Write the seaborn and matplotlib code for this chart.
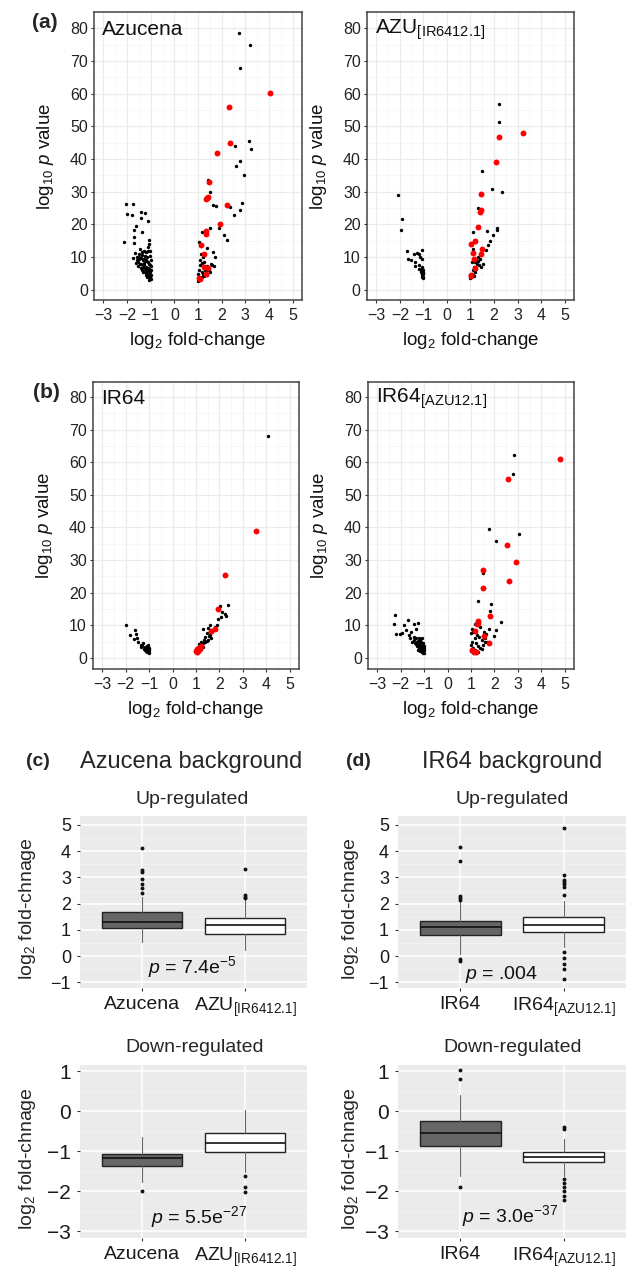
import matplotlib
matplotlib.use('Agg')
import matplotlib.pyplot as plt
import numpy as np
import pandas as pd
import seaborn as sns

sns.set_theme(style='white')
plt.rcParams['font.family'] = ['Liberation Sans', 'DejaVu Sans']
plt.rcParams['mathtext.fontset'] = 'custom'
plt.rcParams['mathtext.rm'] = 'Liberation Sans'
plt.rcParams['mathtext.it'] = 'Liberation Sans:italic'
plt.rcParams['mathtext.bf'] = 'Liberation Sans:bold'

# ---- volcano data: (log2 fold-change, log10 p) ----
azucena_black = [
    (-2.03, 26.2), (-1.76, 26.2), (-2.02, 23.1), (-1.79, 22.9), (-2.12, 14.5), (-1.43, 23.8),
    (-1.26, 23.4), (-1.41, 21.9), (-1.12, 21.2), (-1.62, 19.6), (-1.69, 18.3), (-1.36, 17.8),
    (-1.72, 16.3), (-1.69, 14.3), (-1.08, 15.3), (-1.08, 14.0), (-1.45, 12.5), (-1.30, 12.0),
    (-1.20, 11.5), (-1.10, 13.0), (-1.05, 12.0), (-1.02, 10.5), (-1.00, 9.0), (-1.15, 10.0),
    (-1.25, 10.5), (-1.35, 10.8), (-1.50, 9.5), (-1.60, 9.0), (-1.75, 9.8), (-1.55, 8.5),
    (-1.40, 8.0), (-1.30, 7.5), (-1.18, 7.0), (-1.08, 6.5), (-1.03, 5.5), (-1.00, 4.5),
    (-1.12, 8.5), (-1.22, 8.8), (-1.32, 9.2), (-1.45, 7.8), (-1.62, 8.2), (-1.50, 10.0),
    (-1.38, 11.5), (-1.28, 9.5), (-1.15, 5.8), (-1.05, 7.5), (-1.00, 3.2), (-1.10, 4.5),
    (-1.20, 6.0), (-1.02, 3.8), (-1.06, 5.0), (-1.14, 5.2), (-1.24, 6.5), (-1.34, 7.0),
    (-1.42, 6.8), (-1.01, 3.5), (-1.04, 4.2), (-1.09, 3.8), (-1.17, 4.8), (-1.12, 12.0),
    (-1.48, 11.0), (-1.58, 10.2), (-1.27, 8.2), (-1.19, 9.0), (-1.11, 6.8), (-1.07, 8.0),
    (-1.03, 6.2), (-1.36, 6.0), (-1.26, 5.4), (-1.16, 4.0), (-1.06, 3.0), (-1.21, 4.6),
    (-1.31, 5.6), (-1.41, 9.6), (-1.52, 7.4), (-1.66, 11.2), (-1.00, 6.0), (-1.00, 7.2),
    (2.74, 78.5), (3.19, 75.0), (2.77, 68.0), (3.15, 45.5), (3.25, 43.0), (2.55, 44.0),
    (2.79, 39.5), (2.61, 38.0), (2.94, 35.2), (2.86, 26.5), (2.37, 25.5), (2.77, 24.3),
    (2.51, 23.0), (2.11, 16.8), (2.22, 15.2), (1.87, 18.8), (1.65, 26.0), (1.76, 25.6),
    (1.51, 30.0), (1.44, 33.5), (1.16, 17.7), (1.51, 19.0), (1.06, 14.7), (1.37, 12.7),
    (1.65, 11.6), (1.72, 10.1), (1.16, 8.2), (1.08, 9.0), (1.12, 11.0), (1.20, 10.0),
    (1.25, 8.5), (1.30, 7.0), (1.35, 6.5), (1.40, 7.2), (1.45, 6.0), (1.50, 5.5),
    (1.55, 7.8), (1.02, 5.0), (1.05, 6.0), (1.10, 7.5), (1.15, 5.5), (1.22, 4.8),
    (1.28, 6.2), (1.33, 5.8), (1.18, 4.0), (1.08, 3.5), (1.03, 3.0), (1.00, 2.8),
    (1.13, 3.8), (1.24, 4.2), (1.38, 4.5), (1.60, 7.5), (1.68, 7.2),
]
azucena_red = [
    (4.05, 60.3), (2.30, 56.0), (2.34, 45.0), (1.80, 42.0), (1.48, 33.0), (1.44, 28.5),
    (1.39, 28.2), (1.35, 27.7), (2.22, 26.0), (1.94, 20.3), (1.33, 18.0), (1.32, 17.0),
    (1.13, 13.8), (1.24, 11.0), (1.27, 7.0), (1.44, 6.7), (1.35, 5.0), (1.06, 3.5), (1.10, 3.3),
]
azu_black = [
    (-2.07, 29.0), (-1.92, 21.8), (-1.95, 18.2), (-1.71, 11.9), (-1.64, 9.5), (-1.42, 11.0),
    (-1.28, 11.3), (-1.21, 11.0), (-1.06, 12.3), (-1.52, 9.0), (-1.35, 8.5), (-1.21, 7.5),
    (-1.14, 10.0), (-1.06, 9.5), (-1.38, 7.3), (-1.18, 6.4), (-1.08, 7.0), (-1.04, 6.0),
    (-1.02, 5.2), (-1.06, 4.6), (-1.00, 4.0), (-1.10, 5.5), (-1.05, 6.6), (-1.03, 4.8),
    (-1.08, 5.0), (-1.12, 6.0), (-1.01, 5.6), (-1.07, 3.8), (-1.02, 3.6),
    (2.20, 57.0), (2.23, 51.5), (1.49, 36.4), (1.90, 31.0), (2.32, 30.0), (1.30, 25.0),
    (2.13, 18.9), (2.13, 18.2), (1.95, 16.8), (1.69, 17.9), (1.11, 17.6), (1.83, 15.1),
    (1.73, 13.6), (1.66, 12.3), (1.09, 12.6), (1.30, 10.0), (1.37, 7.5), (1.25, 9.0),
    (1.40, 9.5), (1.20, 8.5), (1.15, 7.0), (1.10, 6.0), (1.05, 5.0), (1.02, 4.0),
    (1.00, 3.5), (1.12, 4.5), (1.18, 5.5), (1.22, 6.5), (1.28, 7.8), (1.33, 8.8),
    (1.08, 8.5), (1.14, 9.5), (1.45, 7.0), (1.52, 8.0), (1.04, 3.8), (1.16, 4.2),
]
azu_red = [
    (3.24, 48.0), (2.23, 46.8), (2.09, 39.2), (1.44, 29.2), (1.46, 24.5), (1.42, 23.8),
    (1.34, 19.2), (1.02, 14.1), (1.20, 15.0), (1.49, 12.5), (1.44, 11.0), (1.11, 11.3),
    (1.13, 9.3), (1.20, 6.7), (1.01, 4.4), (1.03, 4.2),
]
ir64_black = [
    (-1.99, 10.0), (-1.81, 7.0), (-1.62, 8.5), (-1.56, 7.2), (-1.66, 5.8), (-1.47, 5.0),
    (-1.37, 4.0), (-1.30, 3.8), (-1.25, 4.5), (-1.20, 3.2), (-1.15, 2.8), (-1.10, 3.5),
    (-1.05, 2.5), (-1.00, 2.0), (-1.02, 3.0), (-1.08, 2.2), (-1.12, 2.0), (-1.18, 2.5),
    (-1.00, 1.6), (-1.04, 1.8), (-1.06, 4.0), (-1.03, 3.6), (-1.14, 3.0), (-1.35, 3.2),
    (-1.50, 6.2), (-1.22, 2.6), (-1.01, 2.6), (-1.09, 1.9),
    (4.09, 68.0), (2.37, 16.2), (2.01, 15.8), (2.12, 14.2), (2.22, 13.4), (2.08, 12.6),
    (1.32, 9.0), (1.58, 10.0), (1.52, 9.2), (1.45, 7.5), (1.40, 6.5), (1.60, 7.0),
    (1.70, 8.0), (1.80, 9.5), (1.90, 10.2), (1.35, 5.5), (1.30, 4.5), (1.25, 4.0),
    (1.20, 3.5), (1.15, 3.0), (1.10, 2.5), (1.05, 2.2), (1.00, 1.8), (1.50, 5.5),
    (1.65, 6.0), (1.55, 6.8), (1.12, 4.2), (1.22, 5.0), (1.38, 4.8), (1.45, 5.2),
    (1.08, 3.2), (1.95, 12.0), (2.30, 13.0), (1.28, 3.2),
]
ir64_red = [
    (3.56, 39.0), (2.24, 25.5), (1.94, 15.0), (1.82, 8.8), (1.62, 8.2), (1.22, 3.5),
    (1.12, 3.0), (1.03, 2.6), (1.00, 2.0), (1.08, 2.2), (1.15, 2.8), (1.05, 1.8),
]
ir64azu_black = [
    (-2.24, 13.3), (-2.29, 10.3), (-1.71, 11.5), (-1.27, 10.7), (-1.43, 10.5), (-2.19, 7.4),
    (-1.96, 7.5), (-1.79, 8.5), (-2.05, 7.4), (-1.65, 7.0), (-1.55, 8.0), (-1.45, 6.5),
    (-1.35, 6.0), (-1.30, 5.0), (-1.25, 4.0), (-1.20, 3.5), (-1.15, 3.0), (-1.10, 2.5),
    (-1.05, 2.0), (-1.00, 1.5), (-1.02, 3.0), (-1.06, 4.0), (-1.12, 5.0), (-1.18, 5.5),
    (-1.22, 6.2), (-1.40, 4.5), (-1.32, 3.5), (-1.28, 2.5), (-1.18, 2.0), (-1.08, 1.8),
    (-1.00, 2.5), (-1.03, 4.5), (-1.10, 6.0), (-1.50, 5.0), (-1.60, 6.0), (-1.14, 3.8),
    (-1.24, 3.0), (-1.04, 1.6), (-1.00, 3.5), (-1.36, 9.0), (-1.88, 10.0),
    (-1.16, 4.6), (-1.26, 5.2), (-1.08, 3.3), (-1.34, 4.2), (-1.44, 5.6), (-1.20, 2.6),
    (2.83, 62.3), (2.79, 56.5), (1.79, 39.5), (2.07, 36.0), (3.03, 38.0), (1.50, 26.0),
    (1.29, 17.3), (1.86, 16.5), (1.81, 14.5), (2.29, 11.0), (2.07, 8.7), (2.00, 6.6),
    (1.00, 7.5), (1.05, 9.0), (1.10, 8.0), (1.15, 6.0), (1.25, 7.0), (1.35, 6.5),
    (1.45, 5.5), (1.55, 8.0), (1.60, 6.0), (1.70, 5.0), (1.20, 4.5), (1.30, 3.5),
    (1.10, 3.0), (1.02, 2.0), (1.08, 1.8), (1.25, 2.2), (1.40, 3.0), (1.50, 4.0),
    (1.65, 7.2), (1.75, 9.0), (1.15, 10.5), (1.38, 9.5), (1.00, 4.0), (1.05, 5.0),
    (1.18, 2.5), (1.45, 2.8), (1.32, 1.9), (1.58, 5.0),
]
ir64azu_red = [
    (4.79, 61.0), (2.57, 55.0), (2.53, 34.5), (2.91, 29.5), (2.64, 23.5), (1.50, 27.0),
    (1.53, 21.3), (1.83, 12.8), (1.29, 11.2), (1.24, 10.3), (1.32, 10.8), (1.19, 8.2),
    (1.54, 6.6), (1.76, 4.6), (1.04, 2.4), (1.14, 1.8), (1.20, 1.9),
]

# ---- box summaries: [first group, second group] ----
c_up_q1, c_up_med, c_up_q3 = [1.09, 0.85], [1.32, 1.19], [1.67, 1.45]
c_up_lo, c_up_hi = [0.56, 0.24], [2.27, 2.15]
c_up_out = [[2.42, 2.61, 2.75, 2.93, 3.20, 3.29, 4.14], [2.22, 2.27, 2.33, 3.31]]
c_dn_q1, c_dn_med, c_dn_q3 = [-1.38, -1.02], [-1.18, -0.81], [-1.06, -0.56]
c_dn_lo, c_dn_hi = [-1.77, -1.52], [-0.64, 0.02]
c_dn_out = [[-2.00], [-1.63, -1.89, -2.03]]
d_up_q1, d_up_med, d_up_q3 = [0.81, 0.91], [1.13, 1.19], [1.35, 1.49]
d_up_lo, d_up_hi = [0.08, 0.34], [2.10, 2.10]
d_up_out = [[4.17, 3.62, 2.31, 2.23, 2.15, -0.11, -0.17],
            [4.87, 3.08, 2.92, 2.83, 2.74, 2.64, 2.34, 0.15, -0.07, -0.30, -0.49, -0.87]]
d_dn_q1, d_dn_med, d_dn_q3 = [-0.88, -1.28], [-0.55, -1.14], [-0.25, -1.03]
d_dn_lo, d_dn_hi = [-1.62, -1.62], [0.41, -0.69]
d_dn_out = [[1.02, 0.81, -1.89], [-0.40, -0.45, -1.69, -1.79, -1.90, -2.00, -2.13, -2.23]]

azu_groups = ['Azucena', r'AZU$_{[\mathrm{IR6412.1}]}$']
ir_groups = ['IR64', r'IR64$_{[\mathrm{AZU12.1}]}$']

W, H = 638, 1267
fig = plt.figure(figsize=(W / 100, H / 100), dpi=100)


def rect(x0, y0, x1, y1):
    return [x0 / W, 1 - y1 / H, (x1 - x0) / W, (y1 - y0) / H]


def volcano(r, title, black, red, ylim):
    ax = fig.add_axes(r)
    b = pd.DataFrame(black, columns=['fc', 'p'])
    rd = pd.DataFrame(red, columns=['fc', 'p'])
    sns.scatterplot(data=b, x='fc', y='p', ax=ax, color='black', s=6, linewidth=0)
    sns.scatterplot(data=rd, x='fc', y='p', ax=ax, color='#FF0000', s=18, linewidth=0)
    ax.set_xlim(-3.4, 5.4)
    ax.set_ylim(*ylim)
    ax.set_xticks(range(-3, 6))
    ax.set_yticks(range(0, 81, 10))
    ax.set_xticks(np.arange(-2.5, 5, 1), minor=True)
    ax.set_yticks(np.arange(5, 80, 10), minor=True)
    ax.grid(which='major', color='#EBEBEB', lw=0.9)
    ax.grid(which='minor', color='#F4F4F4', lw=0.5)
    ax.set_axisbelow(True)
    for s in ax.spines.values():
        s.set_color('#444444')
        s.set_linewidth(1.1)
    ax.tick_params(which='major', length=2.5, width=0.8, color='#333333',
                   labelsize=11.5, labelcolor='#222222', left=True, bottom=True)
    ax.tick_params(axis='x', pad=3.5)
    ax.tick_params(axis='y', pad=2)
    ax.tick_params(which='minor', length=0)
    ax.set_xlabel('')
    ax.set_ylabel('')
    ax.text(-3.05, 79.5, title, fontsize=15, ha='left', va='center', color='#111111')
    ax.text(0.5, -0.14, r'log$_2$ fold-change', transform=ax.transAxes,
            ha='center', va='center', fontsize=13.5, color='#111111')
    ax.text(-0.235, 0.5, r'log$_{10}$ $p$ value', transform=ax.transAxes, rotation=90,
            ha='center', va='center', fontsize=13.5, color='#111111')
    return ax


volcano(rect(94, 12, 302, 300), 'Azucena', azucena_black, azucena_red, (-3.1, 85))
volcano(rect(367, 12, 574, 300), r'AZU$_{[\mathrm{IR6412.1}]}$', azu_black, azu_red, (-3.1, 85))
volcano(rect(93, 382, 299, 669), 'IR64', ir64_black, ir64_red, (-3.4, 84.6))
volcano(rect(368, 382, 574, 669), r'IR64$_{[\mathrm{AZU12.1}]}$', ir64azu_black, ir64azu_red, (-3.4, 84.6))


def boxes(r, q1, med, q3, lo, hi, out, groups, ylim, yticks, tfs, ptxt, pxy):
    ax = fig.add_axes(r, facecolor='#EBEBEB')
    stats = [dict(q1=q1[i], med=med[i], q3=q3[i], whislo=lo[i], whishi=hi[i], fliers=out[i])
             for i in range(2)]
    bp = ax.bxp(stats, positions=[1, 2], widths=0.78, patch_artist=True, showcaps=False,
                boxprops=dict(edgecolor='#222222', linewidth=1.0),
                medianprops=dict(color='#111111', linewidth=1.2),
                whiskerprops=dict(color='#666666', linewidth=0.8),
                flierprops=dict(marker='o', markersize=2.8, markerfacecolor='#111111',
                                markeredgewidth=0))
    bp['boxes'][0].set_facecolor('#666666')
    bp['boxes'][1].set_facecolor('white')
    ax.set_xlim(0.4, 2.6)
    ax.set_ylim(*ylim)
    ax.set_yticks(yticks)
    ax.set_yticks(np.arange(yticks[0] + 0.5, yticks[-1], 1), minor=True)
    ax.set_xticks([1, 2])
    ax.set_xticklabels(groups)
    ax.grid(which='major', color='white', lw=1.1)
    ax.grid(which='minor', axis='y', color='#F5F5F5', lw=0.5)
    ax.set_axisbelow(True)
    for s in ax.spines.values():
        s.set_visible(False)
    ax.tick_params(which='major', length=2.5, width=0.8, color='#333333',
                   left=True, bottom=True, labelcolor='#1a1a1a')
    ax.tick_params(axis='y', labelsize=tfs, pad=4)
    ax.tick_params(axis='x', labelsize=14, pad=3)
    ax.tick_params(which='minor', length=0)
    ax.text(pxy[0], pxy[1], ptxt, ha='center', va='baseline', fontsize=14, color='#111111')
    return ax


ax = boxes(rect(80, 816, 307, 988), c_up_q1, c_up_med, c_up_q3, c_up_lo, c_up_hi, c_up_out,
           azu_groups, (-1.21, 5.34), list(range(-1, 6)), 13, r'$p$ = 7.4e$^{-5}$', (1.49, -0.64))
ax.text(-0.232, 0.46, r'log$_2$ fold-chnage', transform=ax.transAxes, rotation=90,
        ha='center', va='center', fontsize=14)
ax = boxes(rect(80, 1065, 307, 1238), c_dn_q1, c_dn_med, c_dn_q3, c_dn_lo, c_dn_hi, c_dn_out,
           azu_groups, (-3.17, 1.15), list(range(-3, 2)), 15, r'$p$ = 5.5e$^{-27}$', (1.55, -2.81))
ax.text(-0.232, 0.46, r'log$_2$ fold-chnage', transform=ax.transAxes, rotation=90,
        ha='center', va='center', fontsize=14)
ax = boxes(rect(398, 816, 626, 988), d_up_q1, d_up_med, d_up_q3, d_up_lo, d_up_hi, d_up_out,
           ir_groups, (-1.21, 5.34), list(range(-1, 6)), 13, r'$p$ = .004', (1.40, -0.88))
ax.text(-0.209, 0.46, r'log$_2$ fold-chnage', transform=ax.transAxes, rotation=90,
        ha='center', va='center', fontsize=14)
ax = boxes(rect(398, 1065, 626, 1238), d_dn_q1, d_dn_med, d_dn_q3, d_dn_lo, d_dn_hi, d_dn_out,
           ir_groups, (-3.17, 1.15), list(range(-3, 2)), 15, r'$p$ = 3.0e$^{-37}$', (1.48, -2.77))
ax.text(-0.209, 0.46, r'log$_2$ fold-chnage', transform=ax.transAxes, rotation=90,
        ha='center', va='center', fontsize=14)

# panel letters and headings
fig.text(45 / W, 1 - 22 / H, '(a)', fontsize=15, fontweight='bold', ha='center', va='center')
fig.text(46 / W, 1 - 393 / H, '(b)', fontsize=15, fontweight='bold', ha='center', va='center')
fig.text(38 / W, 1 - 761 / H, '(c)', fontsize=14, fontweight='bold', ha='center', va='center')
fig.text(358 / W, 1 - 761 / H, '(d)', fontsize=14, fontweight='bold', ha='center', va='center')
fig.text(191 / W, 1 - 762 / H, 'Azucena background', fontsize=17, ha='center', va='center')
fig.text(512 / W, 1 - 762 / H, 'IR64 background', fontsize=17, ha='center', va='center')
fig.text(192 / W, 1 - 799 / H, 'Up-regulated', fontsize=14, ha='center', va='center')
fig.text(512 / W, 1 - 799 / H, 'Up-regulated', fontsize=14, ha='center', va='center')
fig.text(195 / W, 1 - 1047 / H, 'Down-regulated', fontsize=14, ha='center', va='center')
fig.text(513 / W, 1 - 1047 / H, 'Down-regulated', fontsize=14, ha='center', va='center')

fig.savefig('out.png', dpi=100)
